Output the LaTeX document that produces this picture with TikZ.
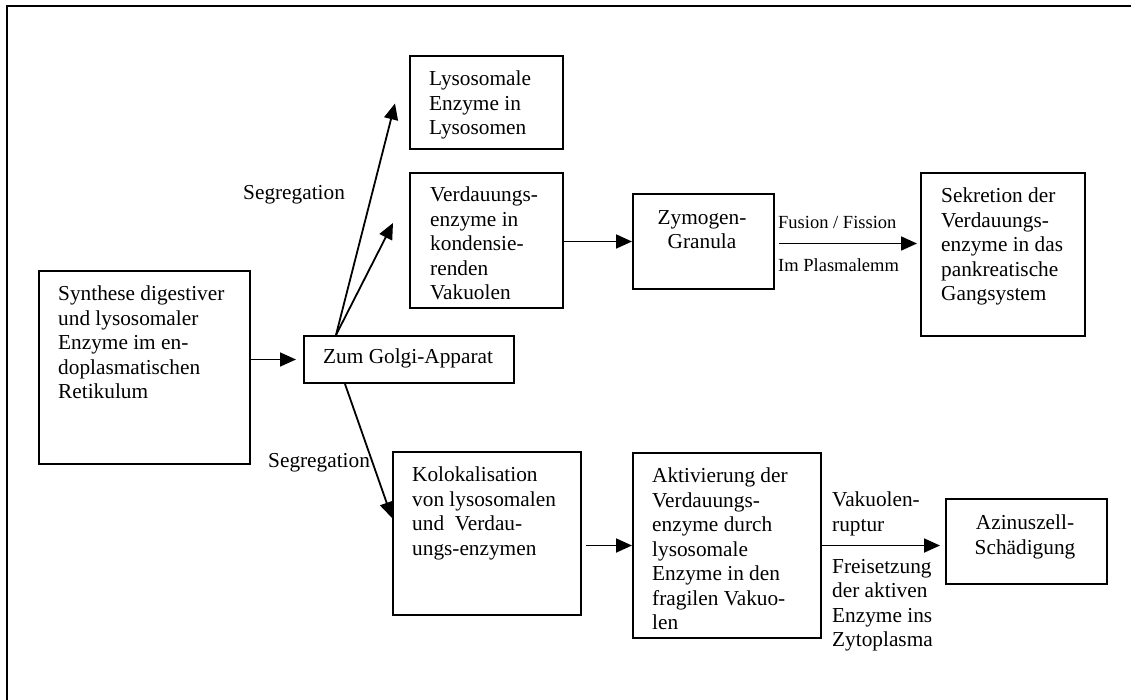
\documentclass[tikz,border=0pt]{standalone}
\usepackage{fontspec}
\setmainfont{Liberation Serif}
\usetikzlibrary{arrows.meta,calc}
\tikzstyle{Block} = [draw, rectangle, line width=2pt, anchor=north west, inner sep=0pt]
\tikzstyle{Text}  = [anchor=north west, align=left, inner sep=0pt]
\tikzstyle{Arrow} = [-{Triangle[length=16pt,width=14pt]}, line width=1.8pt]

\begin{document}
\begin{tikzpicture}[x=1pt, y=-1pt, font={\fontsize{21.3}{24.5}\selectfont}]
    \useasboundingbox (0,0) rectangle (1131,700);
    % frame
    \draw[line width=2.2pt] (1131,6) -- (7,6) -- (7,700);

    % boxes
    \node[Block, minimum width=211pt, minimum height=193pt] (synthese) at (38,270)  {};
    \node[Block, minimum width=210pt, minimum height=47pt]  (golgi)    at (303,335) {};
    \node[Block, minimum width=153pt, minimum height=93pt]  (lyso)     at (409,55)  {};
    \node[Block, minimum width=153pt, minimum height=135pt] (verd)     at (409,172) {};
    \node[Block, minimum width=141pt, minimum height=95pt]  (zymogen)  at (632,193) {};
    \node[Block, minimum width=164pt, minimum height=163pt] (sekretion) at (920,172) {};
    \node[Block, minimum width=188pt, minimum height=163pt] (kolo)     at (392,451) {};
    \node[Block, minimum width=188pt, minimum height=185pt] (aktiv)    at (632,452) {};
    \node[Block, minimum width=161pt, minimum height=85pt]  (azinus)   at (945,498) {};

    % box texts
    \node[Text] (synthese text) at (58,286)  {Synthese digestiver\\und lysosomaler\\Enzyme im en-\\doplasmatischen\\Retikulum};
    \node[Text] (golgi text)    at (323,349) {Zum Golgi-Apparat};
    \node[Text] (lyso text)     at (429,71)  {Lysosomale\\Enzyme in\\Lysosomen};
    \node[Text] (verd text)     at (430,187) {Verdauungs-\\enzyme in\\kondensie-\\renden\\Vakuolen};
    \node[Text, anchor=north, align=center] (zymogen text) at (702,210) {Zymogen-\\Granula};
    \node[Text] (sekretion text) at (941,188) {Sekretion der\\Verdauungs-\\enzyme in das\\pankreatische\\Gangsystem};
    \node[Text] (kolo text)     at (412,467) {Kolokalisation\\von lysosomalen\\und~ Verdau-\\ungs-enzymen};
    \node[Text] (aktiv text)    at (652,468) {Aktivierung der\\Verdauungs-\\enzyme durch\\lysosomale\\Enzyme in den\\fragilen Vakuo-\\len};
    \node[Text, anchor=north, align=center] (azinus text) at (1025,515) {Azinuszell-\\Schädigung};

    % arrow labels
    \node[Text] (seg top)    at (243,185) {Segregation};
    \node[Text] (seg bottom) at (268,453) {Segregation};
    \node[Text, font={\fontsize{18.5}{24.5}\selectfont}] (fusion) at (778,216) {Fusion / Fission};
    \node[Text, font={\fontsize{18.5}{24.5}\selectfont}] (plasma) at (778,258) {Im Plasmalemm};
    \node[Text] (ruptur)     at (832,492) {Vakuolen-\\ruptur};
    \node[Text] (freisetz)   at (832,559) {Freisetzung\\der aktiven\\Enzyme ins\\Zytoplasma};

    % connectors
    \coordinate (golgi top)    at ($(golgi.north west)+(33,0)$);
    \coordinate (golgi bottom) at ($(golgi.south west)+(42,0)$);
    \draw[Arrow, shorten >=7pt] (synthese.east |- golgi.west) -- (golgi.west);
    \draw[Arrow] (golgi top) -- ($(lyso.west)+(-14,1)$);
    \draw[Arrow] (golgi top) -- ($(verd.north west)+(-16,51)$);
    \draw[Arrow] (golgi bottom) -- ($(kolo.north west)+(0,67)$);
    \draw[Arrow] (verd.east |- zymogen.west) -- (zymogen.west);
    \draw[Arrow, shorten >=3pt] ($(zymogen.east)+(4,2)$) -- ($(sekretion.west |- zymogen.east)+(0,2)$);
    \draw[Arrow, shorten <=4pt] (kolo.east |- aktiv.west) -- (aktiv.west);
    \draw[Arrow, shorten >=5pt] (aktiv.east) -- (aktiv.east -| azinus.west);
\end{tikzpicture}
\end{document}
